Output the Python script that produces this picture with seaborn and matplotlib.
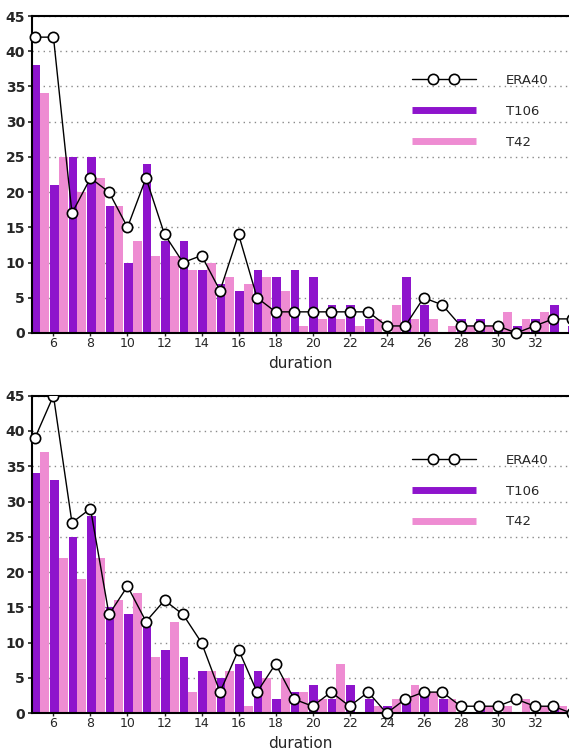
import numpy as np
import pandas as pd
import seaborn as sns
import matplotlib.pyplot as plt
from matplotlib.lines import Line2D
from matplotlib.patches import Rectangle
from matplotlib.legend_handler import HandlerLine2D

# durations 5..34
duration = list(range(5, 35))

# top panel
era40_top = [42, 42, 17, 22, 20, 15, 22, 14, 10, 11, 6, 14, 5, 3, 3,
             3, 3, 3, 3, 1, 1, 5, 4, 1, 1, 1, 0, 1, 2, 2]
t106_top = [38, 21, 25, 25, 18, 10, 24, 13, 13, 9, 7, 6, 9, 8, 9,
            8, 4, 4, 2, 0, 8, 4, 0, 2, 2, 1, 1, 2, 4, 1]
t42_top = [34, 25, 20, 22, 18, 13, 11, 11, 9, 10, 8, 7, 8, 6, 1,
           2, 2, 1, 2, 4, 2, 2, 1, 1, 1, 3, 2, 3, 0, 0]

# bottom panel
era40_bot = [39, 45, 27, 29, 14, 18, 13, 16, 14, 10, 3, 9, 3, 7, 2,
             1, 3, 1, 3, 0, 2, 3, 3, 1, 1, 1, 2, 1, 1, 0]
t106_bot = [34, 33, 25, 28, 15, 14, 13, 9, 8, 6, 5, 7, 6, 2, 3,
            4, 2, 4, 2, 1, 2, 3, 2, 0, 1, 0, 0, 0, 1, 0]
t42_bot = [37, 22, 19, 22, 16, 17, 8, 13, 3, 6, 6, 1, 5, 5, 3,
           2, 7, 0, 1, 2, 4, 3, 2, 0, 1, 1, 2, 1, 1, 0]

xticks = list(range(6, 33, 2))
yticks = list(range(0, 46, 5))
labels = ["ERA40", "T106", "T42"]

purple = "#8E14CC"
pink = "#EE8CD2"

sns.set_style("white")
plt.rcParams["font.family"] = ["DejaVu Sans"]


class PairMarkerHandler(HandlerLine2D):
    # line across the whole handle, two circles in the middle part
    def create_artists(self, *args, **kwargs):
        artists = super().create_artists(*args, **kwargs)
        artists[0].set_markevery([1, 2])
        return artists


fig = plt.figure(figsize=(5.69, 7.52), dpi=100)
ax_top = fig.add_axes([0.0562, 0.5572, 0.9438, 0.4215])
ax_bot = fig.add_axes([0.0562, 0.0515, 0.9438, 0.4223])


def draw_panel(ax, era, t106, t42):
    # bar pair sits just right of each duration value
    bars = pd.DataFrame({
        "pos": np.array(duration + duration) + 0.29,
        "count": t106 + t42,
        "model": ["T106"] * len(duration) + ["T42"] * len(duration),
    })
    sns.barplot(data=bars, x="pos", y="count", hue="model", native_scale=True,
                width=0.94, gap=0, dodge=True, saturation=1, errorbar=None,
                palette={"T106": purple, "T42": pink}, legend=False, ax=ax,
                linewidth=0, edgecolor="none", zorder=2)

    sns.lineplot(x=duration, y=era, ax=ax, color="black", lw=1.0, marker="o",
                 markersize=7.4, markerfacecolor="white", markeredgecolor="black",
                 markeredgewidth=1.2, zorder=4)
    line = ax.lines[-1]
    line.set_clip_path(Rectangle((-0.05, -0.1), 1.1, 1.1, transform=ax.transAxes))

    ax.set_xlim(4.84, 33.85)
    ax.set_ylim(0, 45)
    ax.set_xticks(xticks)
    ax.set_xticklabels([str(v) for v in xticks])
    ax.set_yticks(yticks)
    ax.set_yticklabels([str(v) for v in yticks])
    ax.yaxis.grid(True, color="#8a8a8a", linestyle=(0, (1, 3)), lw=1.0)
    ax.xaxis.grid(False)
    ax.set_axisbelow(True)

    for side in ["left", "bottom", "top"]:
        ax.spines[side].set_visible(True)
        ax.spines[side].set_color("black")
        ax.spines[side].set_linewidth(1.5)
    ax.spines["top"].set_linestyle((0, (3, 1)))
    ax.spines["right"].set_visible(False)

    ax.tick_params(axis="y", length=3, width=1.2, direction="out", pad=2,
                   labelsize=10, left=True)
    ax.tick_params(axis="x", length=2, width=1.0, direction="out", pad=1,
                   labelsize=9, bottom=True)
    for t in ax.get_yticklabels():
        t.set_fontweight("bold")
    ax.set_xlabel("duration", fontsize=11, labelpad=4)
    ax.set_ylabel("")

    handles = [
        Line2D([], [], color="black", lw=1.0, marker="o", markersize=7.4,
               markerfacecolor="white", markeredgecolor="black",
               markeredgewidth=1.2),
        Line2D([], [], color=purple, lw=5, solid_capstyle="butt"),
        Line2D([], [], color=pink, lw=5, solid_capstyle="butt"),
    ]
    ax.legend(handles, labels, loc="upper left", bbox_to_anchor=(0.708, 0.817),
              frameon=False, fontsize=9.5, handlelength=4.8, handletextpad=2.3,
              labelspacing=1.35, borderpad=0, borderaxespad=0,
              handler_map={handles[0]: PairMarkerHandler(numpoints=4, marker_pad=0)})


draw_panel(ax_top, era40_top, t106_top, t42_top)
draw_panel(ax_bot, era40_bot, t106_bot, t42_bot)

fig.savefig("out.png", dpi=100)
